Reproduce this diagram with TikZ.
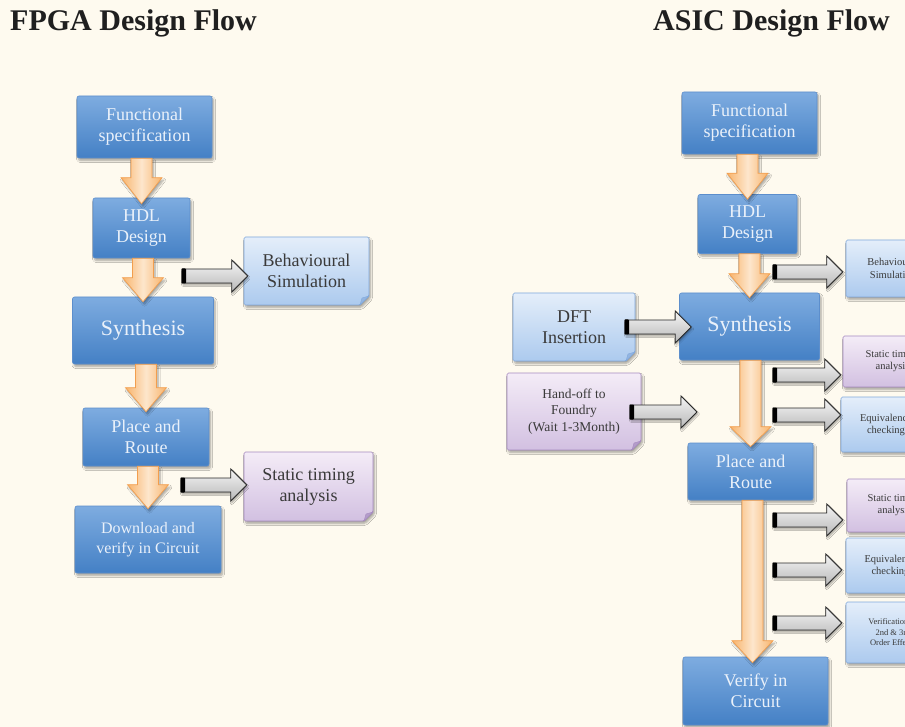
\documentclass[tikz,border=0pt]{standalone}
\usepackage{fontspec}
\setmainfont{Liberation Serif}
\usetikzlibrary{calc,shadows,shadows.blur}

\definecolor{paper}{RGB}{254,250,239}
\definecolor{bluetop}{RGB}{126,172,224}
\definecolor{bluebot}{RGB}{68,128,197}
\definecolor{blueline}{RGB}{92,142,204}
\definecolor{bluetext}{RGB}{234,241,250}
\definecolor{ltop}{RGB}{228,238,250}
\definecolor{lbot}{RGB}{172,202,238}
\definecolor{lline}{RGB}{128,168,220}
\definecolor{ptop}{RGB}{244,236,247}
\definecolor{pbot}{RGB}{210,192,225}
\definecolor{pline}{RGB}{166,138,192}
\definecolor{notetext}{RGB}{58,58,58}
\definecolor{orline}{RGB}{242,158,78}
\definecolor{orfill}{RGB}{248,180,108}
\definecolor{orlight}{RGB}{253,230,204}
\definecolor{grayline}{RGB}{40,40,40}

\tikzset{
  x=1pt, y=-1pt,
  softshadow/.style={blur shadow={shadow xshift=1.5pt, shadow yshift=-2.5pt,
      shadow blur steps=6, shadow blur radius=2pt, shadow opacity=35}},
  title/.style={inner sep=0pt, anchor=base west, text=black!88,
      font=\fontsize{30}{36}\selectfont\bfseries},
  mainbox/.style={rectangle, rounded corners=2pt, draw=blueline, line width=0.6pt,
      top color=bluetop, bottom color=bluebot, text=bluetext, align=center,
      inner sep=0pt, font=\fontsize{18}{21}\selectfont, softshadow},
  noteblue/.style={top color=ltop, bottom color=lbot, draw=lline, line width=0.6pt,
      rounded corners=1.5pt, softshadow},
  notepurple/.style={top color=ptop, bottom color=pbot, draw=pline, line width=0.6pt,
      rounded corners=1.5pt, softshadow},
  foldblue/.style={fill=lline!85, draw=lline, line width=0.4pt},
  foldpurple/.style={fill=pline!85, draw=pline, line width=0.4pt},
  notelabel/.style={inner sep=0pt, align=center, text=notetext},
  flowarr/.style={draw=orline, line width=0.7pt, left color=orfill,
      right color=orfill, middle color=orlight, softshadow},
  grayarr/.style={draw=grayline, line width=0.8pt, top color=white!96!black,
      bottom color=black!28, line join=miter,
      blur shadow={shadow xshift=1pt, shadow yshift=-2pt, shadow blur steps=5,
      shadow blur radius=1.5pt, shadow opacity=35}}
}

% note box with a folded bottom-right corner:
% name, left, top, right, bottom, colour kind, font, text
\newcommand{\notebox}[8]{%
  \path[note#6] (#2,#3) -- (#4,#3) -- (#4,#5-9) -- (#4-9,#5) -- (#2,#5) -- cycle;
  \filldraw[fold#6] (#4,#5-9) -- (#4-9,#5) -- (#4-7,#5-7) -- cycle;
  \node[notelabel, font=#7, minimum width={#4-#2}, minimum height={#5-#3}]
    (#1) at ({(#2+#4)/2},{(#3+#5)/2}) {#8};}

% thick orange flow arrow, drawn downwards from one box to the next
\newcommand{\flowarrow}[3][24]{%
  \path[flowarr] let \p1=(#2), \p2=(#3) in
    (\x2-10.5pt,\y1) -- (\x2+10.5pt,\y1) -- (\x2+10.5pt,\y2+#1pt)
    -- (\x2+20.5pt,\y2+#1pt) -- (\x2,\y2) -- (\x2-20.5pt,\y2+#1pt)
    -- (\x2-10.5pt,\y2+#1pt) -- cycle;}

% grey block arrow with a black tail bar, from a tail point to a tip point
\newcommand{\sidearrow}[2]{%
  \path[grayarr] let \p1=(#1), \p2=(#2) in
    (\x1,\y1+7pt) -- (\x2-16pt,\y1+7pt) -- (\x2-16pt,\y1+16pt) -- (\x2,\y1)
    -- (\x2-16pt,\y1-16pt) -- (\x2-16pt,\y1-7pt) -- (\x1,\y1-7pt) -- cycle;
  \fill[black, rounded corners=0.8pt] let \p1=(#1) in
    (\x1-0.5pt,\y1+7.5pt) rectangle (\x1+4pt,\y1-7.5pt);}

\begin{document}
\begin{tikzpicture}
\useasboundingbox (0,0) rectangle (905,727);
\clip (0,0) rectangle (905,727);
\fill[paper] (0,0) rectangle (905,727);

% ---------------- titles ----------------
\node[title] (tF) at (10,31) {FPGA Design Flow};
\node[title] (tA) at (653,31) {ASIC Design Flow};

% ---------------- FPGA flow ----------------
\node[mainbox, minimum width=135pt, minimum height=62pt] (fF) at (144.5,127) {Functional\\specification};
\node[mainbox, minimum width=97pt, minimum height=60pt] (hF) at (141.5,228) {HDL\\Design};
\node[mainbox, minimum width=141pt, minimum height=67pt, font=\fontsize{22}{26}\selectfont] (sF) at (143,330.5) {Synthesis};
\node[mainbox, minimum width=126pt, minimum height=58pt] (pF) at (146,437) {Place and\\Route};
\node[mainbox, minimum width=146pt, minimum height=67pt, font=\fontsize{16}{19.5}\selectfont] (dF) at (148,539.5) {Download and\\verify in Circuit};

\notebox{bF}{244}{237}{369}{305}{blue}{\fontsize{18}{21}\selectfont}{Behavioural\\Simulation}
\notebox{stF}{244}{452}{373}{521}{purple}{\fontsize{18}{21}\selectfont}{Static timing\\analysis}

\flowarrow[26]{fF.south}{[yshift=-6pt]hF.north}
\flowarrow[24]{hF.south}{[yshift=-5pt]sF.north}
\flowarrow[24]{sF.south}{[yshift=-4pt]pF.north}
\flowarrow[24]{pF.south}{[yshift=-3pt]dF.north}

\coordinate (aF1) at (182,276);
\coordinate (aF2) at (181,485);
\sidearrow{aF1}{[xshift=4pt]bF.west |- aF1}
\sidearrow{aF2}{[xshift=3pt]stF.west |- aF2}

% ---------------- ASIC flow ----------------
\node[mainbox, minimum width=135pt, minimum height=62pt] (fA) at (749.5,123) {Functional\\specification};
\node[mainbox, minimum width=99pt, minimum height=59pt] (hA) at (747.5,224) {HDL\\Design};
\node[mainbox, minimum width=140pt, minimum height=67pt, font=\fontsize{22}{26}\selectfont] (sA) at (749.5,326.5) {Synthesis};
\node[mainbox, minimum width=125pt, minimum height=57pt] (pA) at (750.5,471.5) {Place and\\Route};
\node[mainbox, minimum width=145pt, minimum height=68pt] (vA) at (755.5,691) {Verify in\\Circuit};

\notebox{dft}{513}{293}{635}{361}{blue}{\fontsize{18}{20.5}\selectfont}{DFT\\Insertion}
\notebox{hof}{507}{373}{641}{450}{purple}{\fontsize{13.5}{16.5}\selectfont}{Hand-off to\\Foundry\\(Wait 1-3Month)}

\notebox{bA}{846}{240}{940}{297}{blue}{\fontsize{10.5}{12.5}\selectfont}{Behavioural\\Simulation}
\notebox{st1}{843}{336}{942}{387}{purple}{\fontsize{10.5}{12}\selectfont}{Static timing\\analysis}
\notebox{eq1}{841}{397}{931}{452}{blue}{\fontsize{10.5}{12}\selectfont}{Equivalence\\checking}
\notebox{st2}{847}{479}{942}{532}{purple}{\fontsize{10.5}{12}\selectfont}{Static timing\\analysis}
\notebox{eq2}{846}{538}{935}{593}{blue}{\fontsize{10.5}{12}\selectfont}{Equivalence\\checking}
\notebox{ver}{846}{602}{940}{663}{blue}{\fontsize{8.5}{10.5}\selectfont}{Verification of\\2nd \& 3rd\\Order Effects}

\flowarrow[26]{fA.south}{[yshift=-5pt]hA.north}
\flowarrow[24]{hA.south}{[yshift=-5pt]sA.north}
\flowarrow[20]{sA.south}{[yshift=-4pt]pA.north}
\flowarrow[22]{pA.south}{[yshift=-6pt,xshift=-3pt]vA.north}

\coordinate (aD) at (625,327);
\coordinate (aH) at (630,412);
\coordinate (hEnd) at (697,412);
\sidearrow{aD}{[xshift=12pt]sA.west |- aD}
\sidearrow{aH}{hEnd}

\coordinate (r1) at (773,272);
\coordinate (r2) at (773,375);
\coordinate (r3) at (773,415);
\coordinate (r4) at (773,520);
\coordinate (r5) at (773,570);
\coordinate (r6) at (773,623);
\sidearrow{r1}{[xshift=-3pt]bA.west |- r1}
\sidearrow{r2}{[xshift=-2pt]st1.west |- r2}
\sidearrow{r3}{[xshift=0pt]eq1.west |- r3}
\sidearrow{r4}{[xshift=-4pt]st2.west |- r4}
\sidearrow{r5}{[xshift=-4pt]eq2.west |- r5}
\sidearrow{r6}{[xshift=-4pt]ver.west |- r6}
\end{tikzpicture}
\end{document}
